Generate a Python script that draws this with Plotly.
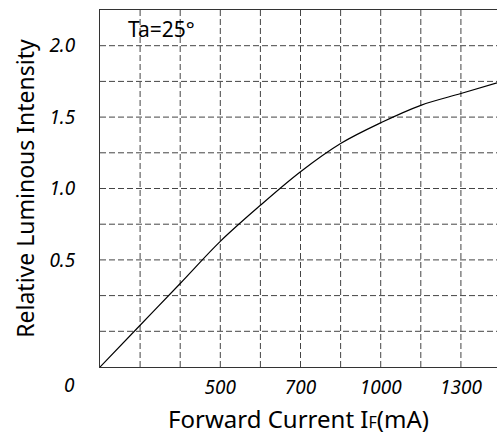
import plotly.graph_objects as go

# Curve (x and y in grid divisions)
current_grid = [0, 1, 2, 3, 4, 5, 6, 7, 8, 9, 9.9]
intensity_grid = [0, 1.17, 2.34, 3.52, 4.53, 5.47, 6.26, 6.84, 7.33, 7.66, 7.96]

x_tickvals = [3, 5, 7, 9]
x_ticktext = ["500", "700", "1000", "1300"]
y_tickvals = [3, 5, 7, 9]
y_ticktext = ["0.5", "1.0", "1.5", "2.0"]
grid_x = [1, 2, 3, 4, 5, 6, 7, 8, 9]
grid_y = [1, 2, 3, 4, 5, 6, 7, 8, 9]

FONT = "Noto Sans"
fig = go.Figure()
fig.add_trace(go.Scatter(x=current_grid, y=intensity_grid, mode="lines",
                         line=dict(color="black", width=1.2, shape="spline", smoothing=1.0),
                         hoverinfo="skip", showlegend=False))

fig.update_layout(
    width=498, height=439,
    margin=dict(l=100, r=1, t=10, b=72),
    paper_bgcolor="white", plot_bgcolor="white",
    font=dict(family=FONT, color="black"),
    xaxis=dict(range=[0, 9.9], tickmode="array", tickvals=x_tickvals, ticktext=x_ticktext,
               tickfont=dict(size=19, style="italic", family=FONT), ticks="", ticklabelstandoff=3,
               showgrid=False, zeroline=False, showline=True, linecolor="#333", linewidth=1,
               mirror=True, automargin=False,
               title=dict(text="Forward Current I<span style='font-size:16px'>F</span>(mA)",
                          font=dict(size=24, family=FONT), standoff=12)),
    yaxis=dict(range=[0, 10], tickmode="array", tickvals=y_tickvals, ticktext=y_ticktext,
               tickfont=dict(size=19, style="italic", family=FONT), ticks="", ticklabelstandoff=20,
               showgrid=False, zeroline=False, showline=True, linecolor="#333", linewidth=1,
               automargin=False,
               title=dict(text="Relative Luminous Intensity", font=dict(size=23, family=FONT),
                          standoff=8)),
)

for gx in grid_x:
    fig.add_shape(type="line", xref="x", yref="y", x0=gx, x1=gx, y0=0, y1=10,
                  line=dict(color="#444", width=1, dash="6px,3px"), layer="below")
for gy in grid_y:
    fig.add_shape(type="line", xref="x", yref="y", x0=0, x1=9.9, y0=gy, y1=gy,
                  line=dict(color="#444", width=1, dash="6px,3px"), layer="below")

fig.add_annotation(x=0.66, y=9.47, xref="x", yref="y", text="Ta=25°", showarrow=False,
                   xanchor="left", yanchor="middle", font=dict(size=21, family=FONT))
fig.add_annotation(x=-0.0778, y=-0.051, xref="paper", yref="paper", text="0", showarrow=False,
                   xanchor="center", yanchor="middle",
                   font=dict(size=19, family=FONT, style="italic"))

fig.write_html("out.html", config={"displayModeBar": False},
               post_script="document.body.style.margin='0';")
